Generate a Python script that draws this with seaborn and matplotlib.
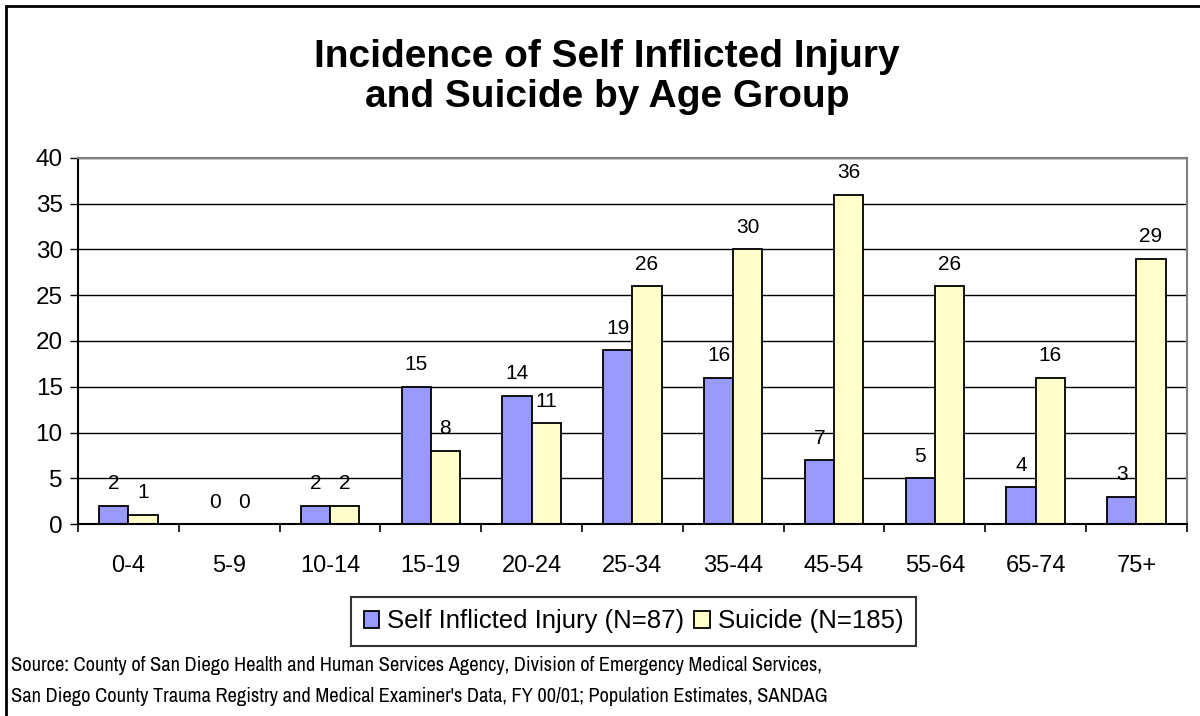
import numpy as np
import pandas as pd
import matplotlib
matplotlib.use('Agg')
import matplotlib.pyplot as plt
from matplotlib.lines import Line2D
from matplotlib.ticker import FixedLocator
import seaborn as sns

AGE_GROUPS = ['0-4', '5-9', '10-14', '15-19', '20-24', '25-34', '35-44', '45-54', '55-64', '65-74', '75+']
INJURY = [2, 0, 2, 15, 14, 19, 16, 7, 5, 4, 3]
SUICIDE = [1, 0, 2, 8, 11, 26, 30, 36, 26, 16, 29]
SERIES = ['Self Inflicted Injury (N=87)', 'Suicide (N=185)']
COLORS = ['#9999FF', '#FFFFCC']

sns.set_style('white')
plt.rcParams['font.family'] = ['Liberation Sans', 'DejaVu Sans']
plt.rcParams['text.color'] = 'black'
plt.rcParams['xtick.color'] = 'black'
plt.rcParams['ytick.color'] = 'black'

df = pd.DataFrame({
    'Age': AGE_GROUPS * 2,
    'Count': INJURY + SUICIDE,
    'Series': [SERIES[0]] * len(AGE_GROUPS) + [SERIES[1]] * len(AGE_GROUPS),
})

fig = plt.figure(figsize=(12, 7.16), dpi=100)
ax = fig.add_axes([0.065, 0.268, 0.924, 0.5115])

sns.barplot(data=df, x='Age', y='Count', hue='Series', palette=COLORS, saturation=1,
            width=0.58, gap=0, edgecolor='black', linewidth=1.3, ax=ax)

for container in ax.containers:
    ax.bar_label(container, fmt='%d', padding=9, fontsize=15)

ax.set_ylim(0, 40)
ax.set_xlim(-0.5, len(AGE_GROUPS) - 0.5)
ax.set_yticks(range(0, 41, 5))
ax.yaxis.grid(True, color='black', linewidth=1)
ax.set_axisbelow(True)
ax.set_xlabel('')
ax.set_ylabel('')

ax.tick_params(axis='y', labelsize=17.5, length=6, width=1, direction='out', left=True, pad=5)
ax.tick_params(axis='x', which='major', labelsize=17, length=0, pad=22)
ax.xaxis.set_minor_locator(FixedLocator(np.arange(-0.5, len(AGE_GROUPS), 1)))
ax.tick_params(axis='x', which='minor', length=6, width=1.2, bottom=True)

for side in ['left', 'bottom']:
    ax.spines[side].set_color('black')
    ax.spines[side].set_linewidth(1.5)
for side in ['top', 'right']:
    ax.spines[side].set_color('#808080')
    ax.spines[side].set_linewidth(1.5)

leg = ax.legend(loc='upper center', bbox_to_anchor=(0.501, -0.198), ncol=2, fontsize=18.5,
                frameon=True, fancybox=False, edgecolor='black', handlelength=0.6,
                handleheight=0.6, handletextpad=0.3, columnspacing=0.4, borderpad=0.5,
                borderaxespad=0)
leg.get_frame().set_linewidth(1.5)

fig.text(0.506, 0.892, 'Incidence of Self Inflicted Injury\nand Suicide by Age Group',
         ha='center', va='center', fontsize=28, fontweight='bold', linespacing=1.15)

src_font = ['Archivo Narrow', 'Liberation Sans']
fig.text(0.009, 0.071, 'Source: County of San Diego Health and Human Services Agency, Division of Emergency Medical Services,',
         ha='left', va='center', fontsize=14.7, family=src_font)
fig.text(0.009, 0.027, "San Diego County Trauma Registry and Medical Examiner's Data, FY 00/01; Population Estimates, SANDAG",
         ha='left', va='center', fontsize=14.7, family=src_font)

fig.add_artist(Line2D([0.005, 0.005], [0, 0.992], color='black', linewidth=2, transform=fig.transFigure))
fig.add_artist(Line2D([0.005, 1], [0.992, 0.992], color='black', linewidth=2, transform=fig.transFigure))

fig.savefig('out.png', dpi=100)
